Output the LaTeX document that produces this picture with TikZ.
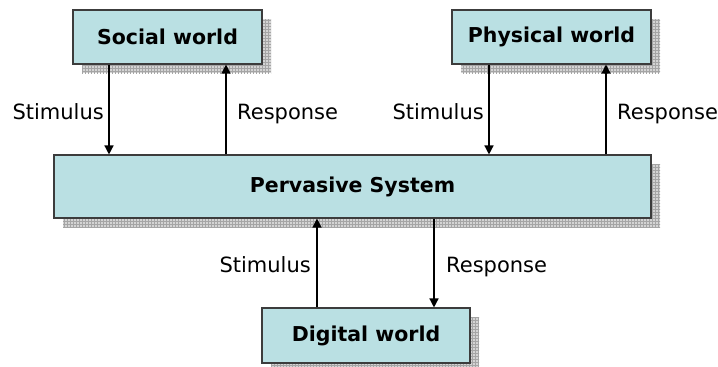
\documentclass[tikz,border=0pt]{standalone}
\usepackage{fontspec}
\setmainfont{DejaVu Sans}
\usetikzlibrary{arrows.meta,shadows,patterns,calc}
\definecolor{boxfill}{RGB}{186,224,227}
\definecolor{boxline}{RGB}{60,60,60}
\definecolor{shadowfill}{RGB}{212,212,212}
\definecolor{shadowgrid}{RGB}{165,165,165}
\pgfdeclarepatternformonly{finegrid}{\pgfqpoint{-1pt}{-1pt}}{\pgfqpoint{4pt}{4pt}}{\pgfqpoint{3pt}{3pt}}%
{\pgfsetlinewidth{0.6pt}
 \pgfpathmoveto{\pgfqpoint{0pt}{1.5pt}}\pgfpathlineto{\pgfqpoint{3.1pt}{1.5pt}}
 \pgfpathmoveto{\pgfqpoint{1.5pt}{0pt}}\pgfpathlineto{\pgfqpoint{1.5pt}{3.1pt}}
 \pgfusepath{stroke}}
\begin{document}
\begin{tikzpicture}[x=1pt,y=-1pt,
  world/.style={draw=boxline,line width=1.1pt,fill=boxfill,inner sep=0pt,
    font=\fontsize{20.5}{24}\selectfont\bfseries,
    general shadow={shadow xshift=9pt,shadow yshift=-9pt,fill=shadowfill},
    general shadow={shadow xshift=9pt,shadow yshift=-9pt,pattern=finegrid,pattern color=shadowgrid}},
  lbl/.style={font=\fontsize{21}{24}\selectfont,inner sep=0pt},
  flow/.style={line width=1.4pt,-{Triangle[length=9pt,width=9pt]}}]
\useasboundingbox (0,0) rectangle (718,367);
% boxes
\node[world,minimum width=189pt,minimum height=54pt] (soc) at (167.5,37) {Social world};
\node[world,minimum width=199pt,minimum height=54pt] (phy) at (551.5,37) {Physical world};
\node[world,minimum width=597pt,minimum height=63pt] (per) at (352.5,186.5) {Pervasive System};
\node[world,minimum width=208pt,minimum height=55pt] (dig) at (366,335.5) {Digital world};
% arrow anchor points
\coordinate (s1) at (109,64);  \coordinate (s1e) at (109,155);
\coordinate (r1) at (226,155); \coordinate (r1e) at (226,64);
\coordinate (s2) at (489,64);  \coordinate (s2e) at (489,155);
\coordinate (r2) at (606,155); \coordinate (r2e) at (606,64);
\coordinate (s3) at (317,308); \coordinate (s3e) at (317,218);
\coordinate (r3) at (434,218); \coordinate (r3e) at (434,308);
\draw[flow] (s1 |- soc.south) -- (s1e |- per.north);
\draw[flow] (r1 |- per.north) -- (r1e |- soc.south);
\draw[flow] (s2 |- phy.south) -- (s2e |- per.north);
\draw[flow] (r2 |- per.north) -- (r2e |- phy.south);
\draw[flow] (s3 |- dig.north) -- (s3e |- per.south);
\draw[flow] (r3 |- per.south) -- (r3e |- dig.north);
% labels
\node[lbl,anchor=base east] (l1) at (104,119) {Stimulus};
\node[lbl,anchor=base west] (l2) at (237,119) {Response};
\node[lbl,anchor=base east] (l3) at (484,119) {Stimulus};
\node[lbl,anchor=base west] (l4) at (617,119) {Response};
\node[lbl,anchor=base east] (l5) at (311,272.5) {Stimulus};
\node[lbl,anchor=base west] (l6) at (446,272.5) {Response};
\end{tikzpicture}
\end{document}
